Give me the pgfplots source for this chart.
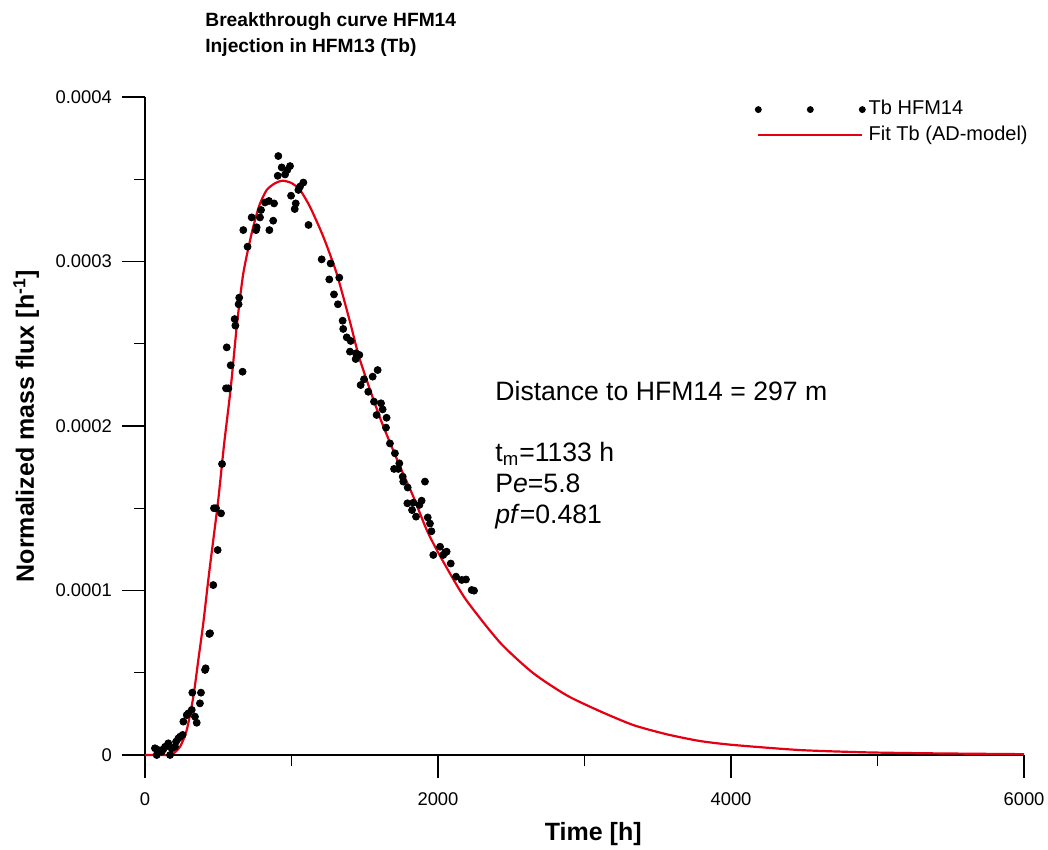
\documentclass[border=0pt]{standalone}
\usepackage{fontspec}
\setmainfont{Liberation Sans}
\usepackage{pgfplots}
\pgfplotsset{compat=1.18}
\definecolor{fitred}{RGB}{228,0,18}

\pgfplotstableread{
x y
68 0.0000041
80 0.0000000
91 0.0000030
114 0.0000020
125 0.0000035
137 0.0000050
159 0.0000071
171 0.0000000
182 0.0000040
205 0.0000050
212 0.0000081
228 0.0000101
239 0.0000111
257 0.0000122
262 0.0000203
285 0.0000243
296 0.0000253
319 0.0000274
323 0.0000379
341 0.0000233
353 0.0000196
375 0.0000314
382 0.0000379
410 0.0000517
414 0.0000527
439 0.0000736
444 0.0000740
466 0.0001033
471 0.0001500
485 0.0001500
496 0.0001246
519 0.0001469
526 0.0001769
553 0.0002229
558 0.0002478
569 0.0002229
585 0.0002369
612 0.0002650
617 0.0002610
639 0.0002740
643 0.0002780
666 0.0002330
671 0.0003191
700 0.0003090
728 0.0003268
758 0.0003191
762 0.0003208
785 0.0003268
792 0.0003313
819 0.0003359
846 0.0003368
849 0.0003191
875 0.0003248
881 0.0003353
906 0.0003521
910 0.0003641
933 0.0003572
956 0.0003529
971 0.0003556
990 0.0003580
997 0.0003400
1022 0.0003319
1029 0.0003353
1047 0.0003435
1058 0.0003455
1081 0.0003480
1116 0.0003222
1206 0.0003013
1258 0.0002891
1267 0.0002988
1290 0.0002800
1317 0.0002740
1326 0.0002902
1349 0.0002640
1353 0.0002590
1377 0.0002539
1399 0.0002452
1404 0.0002517
1438 0.0002407
1440 0.0002442
1463 0.0002432
1472 0.0002249
1495 0.0002284
1524 0.0002208
1554 0.0002300
1563 0.0002148
1581 0.0002067
1588 0.0002340
1611 0.0002138
1622 0.0002101
1645 0.0001990
1649 0.0002050
1672 0.0001894
1700 0.0001739
1706 0.0001834
1729 0.0001739
1736 0.0001773
1759 0.0001692
1763 0.0001662
1791 0.0001530
1793 0.0001626
1823 0.0001489
1832 0.0001534
1850 0.0001449
1873 0.0001520
1888 0.0001546
1911 0.0001662
1930 0.0001444
1945 0.0001407
1955 0.0001360
1968 0.0001216
2014 0.0001266
2036 0.0001216
2048 0.0001231
2059 0.0001236
2087 0.0001164
2123 0.0001084
2162 0.0001064
2191 0.0001067
2230 0.0001003
2246 0.0000999
}\measured

\pgfplotstableread{
x y
0 0
150 0
182 0
239 0.0000050
285 0.0000152
330 0.0000354
364 0.0000578
398 0.0000802
432 0.0001064
466 0.0001307
500 0.0001550
540 0.0001890
585 0.0002229
628 0.0002620
671 0.0002928
728 0.0003171
780 0.0003340
831 0.0003435
890 0.0003477
940 0.0003491
1000 0.0003477
1058 0.0003435
1126 0.0003333
1217 0.0003151
1308 0.0002928
1399 0.0002634
1468 0.0002400
1604 0.0002050
1741 0.0001753
1832 0.0001570
1923 0.0001368
2014 0.0001210
2184 0.0000953
2423 0.0000684
2648 0.0000499
2880 0.0000362
3106 0.0000266
3333 0.0000182
3561 0.0000126
3788 0.0000085
4016 0.0000061
4471 0.0000030
4926 0.0000016
5380 0.0000010
6000 0.0000005
}\fit

\begin{document}
\begin{tikzpicture}
\begin{axis}[
  at={(0pt,0pt)}, anchor=south west,
  scale only axis, width=439.5pt, height=329pt,
  xmin=0, xmax=6000, ymin=0, ymax=0.0004,
  axis x line*=bottom, axis y line*=left,
  clip=false,
  xtick={0,2000,4000,6000}, xticklabels={0,2000,4000,6000},
  minor xtick={1000,3000,5000},
  ytick={0,0.0001,0.0002,0.0003,0.0004},
  yticklabels={0,0.0001,0.0002,0.0003,0.0004},
  minor ytick={0.00005,0.00015,0.00025,0.00035},
  scaled x ticks=false, scaled y ticks=false,
  tick align=outside,
  major tick length=11.5pt, minor tick length=5.5pt,
  every tick/.style={black, line width=0.65pt},
  axis line style={black, line width=0.65pt},
  ticklabel style={font=\fontsize{9.2}{11}\selectfont},
  xticklabel style={yshift=-4pt},
  yticklabel style={xshift=-1.5pt},
  xlabel={Time [h]},
  ylabel={Normalized mass flux [h\textsuperscript{-1}]},
  xlabel style={at={(axis description cs:0.51,-0.1292)}, anchor=base, font=\bfseries\fontsize{12.5}{15}\selectfont},
  ylabel style={at={(axis description cs:-0.1263,0.5)}, anchor=base, rotate=0, font=\bfseries\fontsize{12.5}{15}\selectfont},
  legend style={at={(axis description cs:1.008,1)}, anchor=north east, draw=none, fill=none,
    font=\fontsize{10}{12}\selectfont, inner sep=0pt, row sep=0.5pt,
    nodes={inner sep=1.5pt, text height=7.2pt, text depth=2pt}},
  legend cell align=left,
]
\addplot[only marks, mark=*, mark size=1.75pt, mark options={draw=none, fill=black},
  legend image code/.code={\fill[black] (0pt,0pt) circle (1.5pt); \fill[black] (26pt,0pt) circle (1.5pt); \fill[black] (52pt,0pt) circle (1.5pt);}]
  table[x=x, y=y] {\measured};
\addlegendentry{Tb HFM14}
\addplot[fitred, line width=1.1pt, no marks, smooth, tension=0.4,
  legend image code/.code={\draw[fitred, line width=1.1pt] (0pt,0pt) -- (52pt,0pt);}]
  table[x=x, y=y] {\fit};
\addlegendentry{Fit Tb (AD-model)}

\node[anchor=base west, inner sep=0pt, font=\fontsize{13.3}{15}\selectfont] at (axis cs:2389,0.0002158) {Distance to HFM14 = 297 m};
\node[anchor=base west, inner sep=0pt, font=\fontsize{13.3}{15}\selectfont] at (axis cs:2389,0.0001787) {t\textsubscript{m}=1133 h};
\node[anchor=base west, inner sep=0pt, font=\fontsize{13.3}{15}\selectfont] at (axis cs:2389,0.0001593) {P\textit{e}=5.8};
\node[anchor=base west, inner sep=0pt, font=\fontsize{13.3}{15}\selectfont] at (axis cs:2389,0.0001410) {\textit{pf}=0.481};
\end{axis}
\node[anchor=base west, inner sep=0pt, font=\bfseries\fontsize{9.6}{11}\selectfont] at (30pt,364pt) {Breakthrough curve HFM14};
\node[anchor=base west, inner sep=0pt, font=\bfseries\fontsize{9.6}{11}\selectfont] at (30pt,351pt) {Injection in HFM13 (Tb)};
\pgfresetboundingbox
\path (-72.5pt,-47.5pt) rectangle (451.5pt,377.5pt);
\end{tikzpicture}
\end{document}
